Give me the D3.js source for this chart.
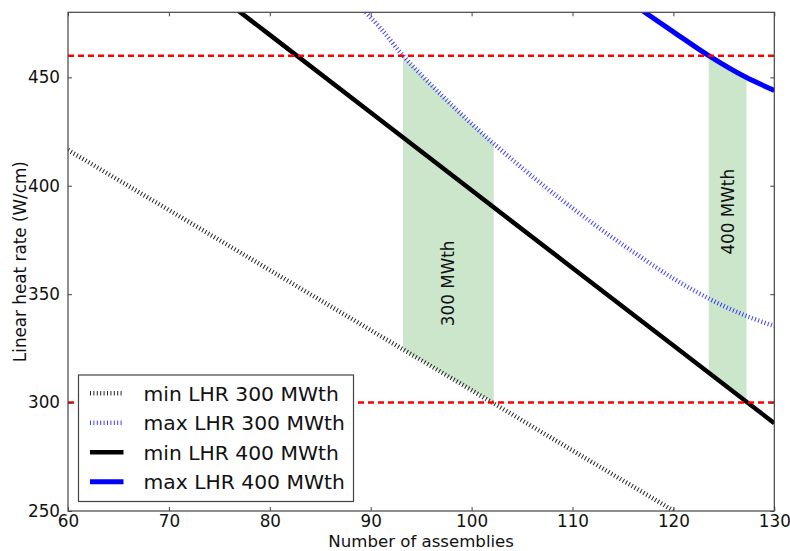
<!DOCTYPE html>
<html><head><meta charset="utf-8">
<script src="https://cdn.jsdelivr.net/npm/d3@7"></script>
<style>
body{margin:0;background:#fff}
text{font-family:"DejaVu Sans",sans-serif;fill:#111}
</style>
</head><body>
<svg id="chart" width="790" height="551"></svg>
<script>
// ---- data ----
const xTicks = [60, 70, 80, 90, 100, 110, 120, 130];
const yTicks = [250, 300, 350, 400, 450];
const xDomain = [60, 130];
const yDomain = [250, 480];

const minLhr300X = [60, 70, 80, 90, 100, 110, 120];
const minLhr300Y = [416.5, 388.8, 361.1, 333.4, 305.7, 277.9, 250.2];

const maxLhr300X = [89.5, 91, 93.2, 95, 97.5, 100, 102.5, 105, 107.5, 110, 112.5, 115, 117.5, 120, 122.5, 125, 127.5, 130];
const maxLhr300Y = [480, 472.5, 460, 451.2, 439.6, 428.6, 418.2, 408.2, 398.7, 389.7, 381, 372.7, 364.8, 357.2, 350.5, 344.5, 339.5, 335.3];

const minLhr400X = [75, 80, 90, 100, 110, 120, 130];
const minLhr400Y = [487.4, 469.6, 433.8, 397.9, 362.1, 326.3, 290.5];

const maxLhr400X = [117, 120, 123.5, 127.2, 130];
const maxLhr400Y = [480.5, 471, 460, 450, 444];

const limitValues = [460, 300];

const regionNames = ["300 MWth", "400 MWth"];
const regionStart = [93.2, 123.5];
const regionEnd = [102.2, 127.25];
const regionLabelY = [355, 388];

const seriesNames = ["min LHR 300 MWth", "max LHR 300 MWth", "min LHR 400 MWth", "max LHR 400 MWth"];

// ---- layout ----
const svg = d3.select("#chart");
const L = 68, R = 774.3, T = 12.3, B = 511;
const x = d3.scaleLinear().domain(xDomain).range([L, R]);
const y = d3.scaleLinear().domain(yDomain).range([B, T]);

svg.append("defs").append("clipPath").attr("id", "clip")
  .append("rect").attr("x", L).attr("y", T).attr("width", R - L).attr("height", B - T);

const plot = svg.append("g").attr("clip-path", "url(#clip)");

const series = [
  {name: seriesNames[0], xs: minLhr300X, ys: minLhr300Y, color: "#000", dash: "1,2.4", width: 4.5, curve: d3.curveLinear, op: 0.85},
  {name: seriesNames[1], xs: maxLhr300X, ys: maxLhr300Y, color: "#0000ff", dash: "1,2.4", width: 4.5, curve: d3.curveMonotoneX, op: 0.75},
  {name: seriesNames[2], xs: minLhr400X, ys: minLhr400Y, color: "#000", dash: null, width: 4.5, curve: d3.curveLinear, op: 1},
  {name: seriesNames[3], xs: maxLhr400X, ys: maxLhr400Y, color: "#0000ff", dash: null, width: 5, curve: d3.curveMonotoneX, op: 1}
];

const interp = (xs, ys) => d3.scaleLinear().domain(xs).range(ys);

// shaded regions (between max and min curves of same power)
const regionPairs = [[1, 0], [3, 2]];
regionPairs.forEach((pair, i) => {
  const top = interp(series[pair[0]].xs, series[pair[0]].ys);
  const bot = interp(series[pair[1]].xs, series[pair[1]].ys);
  const xs = [regionStart[i]].concat(series[pair[0]].xs.filter(v => v > regionStart[i] && v < regionEnd[i]), [regionEnd[i]]);
  const area = d3.area().x(d => x(d)).y0(d => y(Math.max(bot(d), limitValues[1]))).y1(d => y(Math.min(top(d), limitValues[0])));
  plot.append("path").attr("d", area(xs)).attr("fill", "#008000").attr("fill-opacity", 0.2).attr("stroke", "none");
});

series.forEach(s => {
  const line = d3.line().x(d => x(d[0])).y(d => y(d[1])).curve(s.curve);
  plot.append("path").attr("d", line(d3.zip(s.xs, s.ys)))
    .attr("fill", "none").attr("stroke", s.color).attr("stroke-width", s.width)
    .attr("stroke-opacity", s.op).attr("stroke-dasharray", s.dash);
});

limitValues.forEach(v => {
  plot.append("line").attr("x1", x(xDomain[0])).attr("x2", x(xDomain[1]))
    .attr("y1", y(v)).attr("y2", y(v))
    .attr("stroke", "#ff0000").attr("stroke-width", 2.5).attr("stroke-dasharray", "6,4");
});

// region labels
regionNames.forEach((n, i) => {
  const cx = x((regionStart[i] + regionEnd[i]) / 2), cy = y(regionLabelY[i]);
  svg.append("text").attr("transform", `translate(${cx},${cy}) rotate(-90)`)
    .attr("text-anchor", "middle").attr("dominant-baseline", "central")
    .style("font-size", "16.8px").text(n);
});

// axes frame
svg.append("rect").attr("x", L).attr("y", T).attr("width", R - L).attr("height", B - T)
  .attr("fill", "none").attr("stroke", "#444").attr("stroke-width", 1.2);

const tickLen = 4;
const axB = d3.axisBottom(x).tickValues(xTicks).tickSizeInner(-tickLen).tickSizeOuter(0).tickPadding(4.5);
const axT = d3.axisTop(x).tickValues(xTicks).tickSizeInner(-tickLen).tickSizeOuter(0).tickFormat("");
const axL = d3.axisLeft(y).tickValues(yTicks).tickSizeInner(-tickLen).tickSizeOuter(0).tickPadding(8);
const axR = d3.axisRight(y).tickValues(yTicks).tickSizeInner(-tickLen).tickSizeOuter(0).tickFormat("");

function style(g) {
  g.select(".domain").remove();
  g.selectAll(".tick line").attr("stroke", "#444").attr("stroke-width", 1);
  g.selectAll(".tick text").attr("fill", "#111").style("font-size", "16.8px").style("font-family", '"DejaVu Sans",sans-serif');
}
svg.append("g").attr("transform", `translate(0,${B})`).call(axB).call(style);
svg.append("g").attr("transform", `translate(0,${T})`).call(axT).call(style);
svg.append("g").attr("transform", `translate(${L},0)`).call(axL).call(style);
svg.append("g").attr("transform", `translate(${R},0)`).call(axR).call(style);

// axis titles
svg.append("text").attr("x", (L + R) / 2).attr("y", 546.5).attr("text-anchor", "middle")
  .style("font-size", "16.6px").text("Number of assemblies");
svg.append("text").attr("transform", `translate(25.5,${(T + B) / 2}) rotate(-90)`).attr("text-anchor", "middle")
  .style("font-size", "16.8px").text("Linear heat rate (W/cm)");

// legend
const lg = svg.append("g");
lg.append("rect").attr("x", 78.5).attr("y", 375).attr("width", 275).attr("height", 126.5)
  .attr("fill", "#fff").attr("stroke", "#444").attr("stroke-width", 1.2);
series.forEach((s, i) => {
  const cy = 393.3 + i * 29.45;
  lg.append("line").attr("x1", 90).attr("x2", 123.5).attr("y1", cy).attr("y2", cy)
    .attr("stroke", s.color).attr("stroke-width", s.width).attr("stroke-opacity", s.op)
    .attr("stroke-dasharray", s.dash);
  lg.append("text").attr("x", 143.5).attr("y", cy).attr("dy", "0.36em")
    .style("font-size", "20.3px").text(s.name);
});
</script>
</body></html>
